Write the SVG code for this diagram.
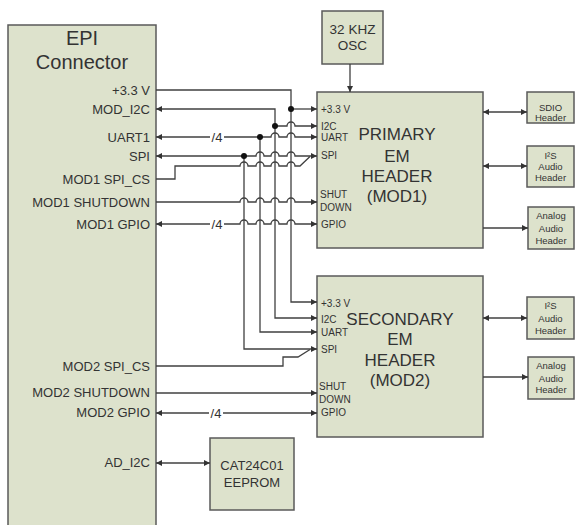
<svg xmlns="http://www.w3.org/2000/svg" width="575" height="525" viewBox="0 0 575 525">
<defs>
<marker id="arr" viewBox="0 0 6 6" refX="6" refY="3" markerWidth="6" markerHeight="6" markerUnits="userSpaceOnUse" orient="auto-start-reverse">
<path d="M0,0 L6,3 L0,6 z" fill="#333"/>
</marker>
<style>
.box{fill:#dde2cc;stroke:#5a5a5a;stroke-width:1.5}
.ln{fill:none;stroke:#404040;stroke-width:1.3}
.a{marker-end:url(#arr)}
.s{marker-start:url(#arr)}
.dot{fill:#111}
text{font-family:"Liberation Sans",Arial,sans-serif;fill:#333}
.sig{font-size:13px;text-anchor:end}
.pin{font-size:10px}
.big{font-size:17px;text-anchor:middle}
.sm{font-size:9.5px;text-anchor:middle}
.mid{font-size:13px;text-anchor:middle}
</style>
</defs>
<rect width="575" height="525" fill="#fff"/>

<g id="epi">
<rect class="box" x="8" y="25" width="148" height="510"/>
<text x="82" y="45" style="font-size:20px;text-anchor:middle">EPI</text>
<text x="82" y="69" style="font-size:20px;text-anchor:middle">Connector</text>
<text class="sig" x="150" y="94.5">+3.3 V</text>
<text class="sig" x="150" y="113.5">MOD_I2C</text>
<text class="sig" x="150" y="141.5">UART1</text>
<text class="sig" x="150" y="160.5">SPI</text>
<text class="sig" x="150" y="183.5">MOD1 SPI_CS</text>
<text class="sig" x="150" y="206.5">MOD1 SHUTDOWN</text>
<text class="sig" x="150" y="228.5">MOD1 GPIO</text>
<text class="sig" x="150" y="370.5">MOD2 SPI_CS</text>
<text class="sig" x="150" y="396.5">MOD2 SHUTDOWN</text>
<text class="sig" x="150" y="416.5">MOD2 GPIO</text>
<text class="sig" x="150" y="466.5">AD_I2C</text>
</g>

<g id="osc">
<rect class="box" x="322" y="11" width="61" height="53"/>
<text x="352.5" y="34" style="font-size:13.5px;text-anchor:middle">32 KHZ</text>
<text x="352.5" y="50" style="font-size:13.5px;text-anchor:middle">OSC</text>
</g>

<g id="primary">
<rect class="box" x="317" y="92" width="166" height="156"/>
<text class="pin" x="321" y="112.5">+3.3 V</text>
<text class="pin" x="321" y="129.5">I2C</text>
<text class="pin" x="321" y="141">UART</text>
<text class="pin" x="321" y="159">SPI</text>
<text class="pin" x="320" y="197.5">SHUT</text>
<text class="pin" x="320" y="210.5">DOWN</text>
<text class="pin" x="321" y="227.5">GPIO</text>
<text class="big" x="397" y="140">PRIMARY</text>
<text class="big" x="397" y="162">EM</text>
<text class="big" x="397" y="182">HEADER</text>
<text class="big" x="397" y="202">(MOD1)</text>
</g>

<g id="secondary">
<rect class="box" x="317" y="276" width="166" height="161"/>
<text class="pin" x="321" y="306.5">+3.3 V</text>
<text class="pin" x="321" y="322.5">I2C</text>
<text class="pin" x="321" y="336">UART</text>
<text class="pin" x="321" y="352.5">SPI</text>
<text class="pin" x="319" y="389.5">SHUT</text>
<text class="pin" x="319" y="402.5">DOWN</text>
<text class="pin" x="321" y="416">GPIO</text>
<text class="big" x="400" y="325">SECONDARY</text>
<text class="big" x="400" y="345">EM</text>
<text class="big" x="400" y="366">HEADER</text>
<text class="big" x="400" y="386">(MOD2)</text>
</g>

<g id="sdio">
<rect class="box" x="527" y="92" width="47" height="31"/>
<text class="sm" x="550.5" y="110.5">SDIO</text>
<text class="sm" x="550.5" y="121">Header</text>
</g>
<g id="i2s1">
<rect class="box" x="527" y="146" width="47" height="41"/>
<text class="sm" x="550.5" y="158.5">I²S</text>
<text class="sm" x="550.5" y="169.5">Audio</text>
<text class="sm" x="550.5" y="180.5">Header</text>
</g>
<g id="analog1">
<rect class="box" x="528" y="207" width="46" height="42"/>
<text class="sm" x="551" y="218.5">Analog</text>
<text class="sm" x="551" y="231.5">Audio</text>
<text class="sm" x="551" y="243.5">Header</text>
</g>
<g id="i2s2">
<rect class="box" x="527" y="297" width="47" height="42"/>
<text class="sm" x="550.5" y="308.5">I²S</text>
<text class="sm" x="550.5" y="321.5">Audio</text>
<text class="sm" x="550.5" y="333.5">Header</text>
</g>
<g id="analog2">
<rect class="box" x="528" y="357" width="46" height="42"/>
<text class="sm" x="551" y="368.5">Analog</text>
<text class="sm" x="551" y="381.5">Audio</text>
<text class="sm" x="551" y="392.5">Header</text>
</g>

<g id="eeprom">
<rect class="box" x="210" y="438" width="84" height="72"/>
<text class="mid" x="252" y="470">CAT24C01</text>
<text class="mid" x="252" y="487">EEPROM</text>
</g>

<g id="connectors">
<path class="ln a" d="M156,90 L291,90 L291,302 L317,302"/>
<path class="ln a" d="M291,109 L317,109"/>
<path class="ln s a" d="M156,109 L275,109 L275,318 L317,318"/>
<path class="ln a" d="M275,126 L287,126 A4,4 0 0 1 295,126 L317,126"/>
<path class="ln s" d="M156,137 L210,137"/>
<path class="ln a" d="M224,137 L271,137 A4,4 0 0 1 279,137 L287,137 A4,4 0 0 1 295,137 L317,137"/>
<path class="ln a" d="M260,137 L260,332 L317,332"/>
<path class="ln s a" d="M156,156 L256,156 A4,4 0 0 1 264,156 L271,156 A4,4 0 0 1 279,156 L287,156 A4,4 0 0 1 295,156 L317,156"/>
<path class="ln a" d="M244,156 L244,349 L317,349"/>
<path class="ln" d="M156,179 L175,179 L175,166 L240,166 A4,4 0 0 1 248,166 L256,166 A4,4 0 0 1 264,166 L271,166 A4,4 0 0 1 279,166 L287,166 A4,4 0 0 1 295,166 L300,166 L310,156.5"/>
<path class="ln a" d="M156,202 L240,202 A4,4 0 0 1 248,202 L256,202 A4,4 0 0 1 264,202 L271,202 A4,4 0 0 1 279,202 L287,202 A4,4 0 0 1 295,202 L317,202"/>
<path class="ln s" d="M156,224 L210,224"/>
<path class="ln a" d="M224,224 L240,224 A4,4 0 0 1 248,224 L256,224 A4,4 0 0 1 264,224 L271,224 A4,4 0 0 1 279,224 L287,224 A4,4 0 0 1 295,224 L317,224"/>
<path class="ln" d="M156,366 L283,366 L283,357 L298,357 L310,349.5"/>
<path class="ln a" d="M156,393 L317,393"/>
<path class="ln s" d="M156,413 L209,413"/>
<path class="ln a" d="M223,413 L317,413"/>
<path class="ln s a" d="M156,463 L210,463"/>
<path class="ln a" d="M350,64 L350,92"/>
<path class="ln s a" d="M483,112 L527,112"/>
<path class="ln s a" d="M483,166 L527,166"/>
<path class="ln a" d="M483,228 L528,228"/>
<path class="ln s a" d="M483,318 L527,318"/>
<path class="ln a" d="M483,377 L528,377"/>
<circle class="dot" cx="291" cy="109" r="3"/>
<circle class="dot" cx="275" cy="126" r="3"/>
<circle class="dot" cx="260" cy="137" r="3"/>
<circle class="dot" cx="244" cy="156" r="3"/>
<text x="217" y="142" style="font-size:13px;text-anchor:middle">/4</text>
<text x="217" y="229" style="font-size:13px;text-anchor:middle">/4</text>
<text x="216" y="418" style="font-size:13px;text-anchor:middle">/4</text>
</g>
</svg>
